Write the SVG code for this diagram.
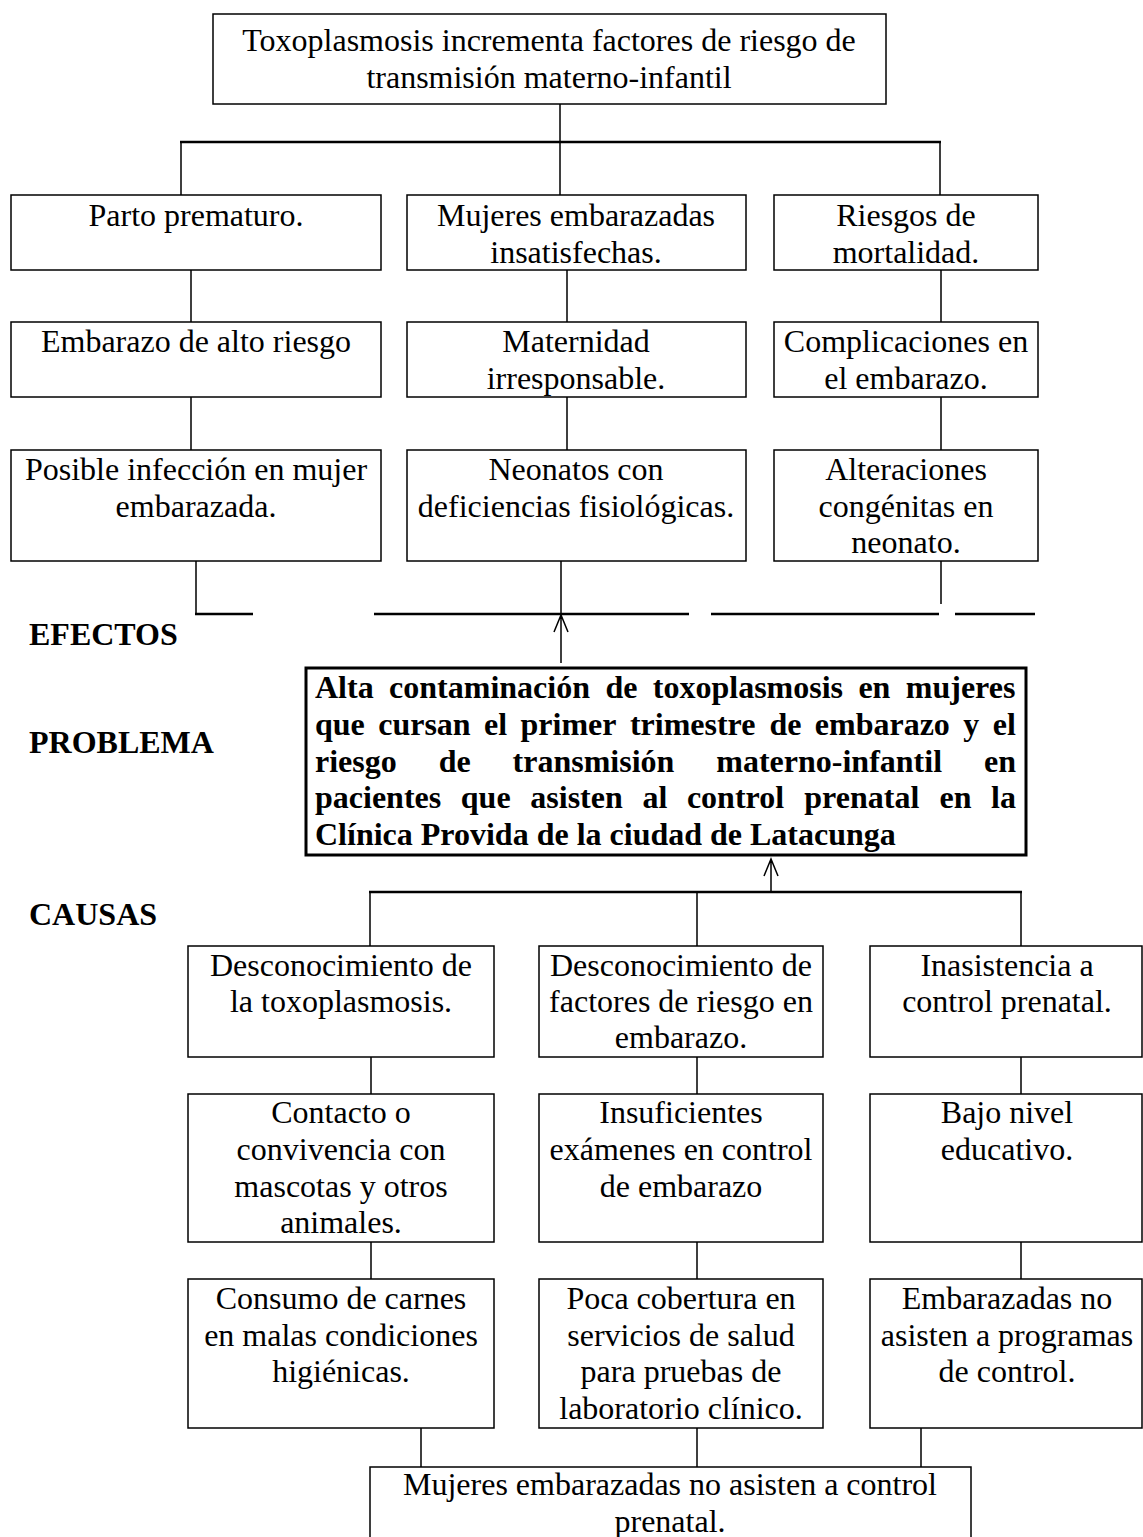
<svg xmlns="http://www.w3.org/2000/svg" width="1143" height="1537" viewBox="0 0 1143 1537">
<style>
text{font-family:"Liberation Serif","Times New Roman",serif;font-size:32px;fill:#000}
.c{text-anchor:middle}
.b{font-weight:bold}
.box{fill:#fff;stroke:#000;stroke-width:1.5}
.pbox{fill:#fff;stroke:#000;stroke-width:3}
.ln{stroke:#000;stroke-width:1.5;fill:none}
.hb{stroke:#000;stroke-width:2.5;fill:none}
</style>
<rect width="1143" height="1537" fill="#fff"/>
<g id="connectors">
<path class="ln" d="M560 104V142M181 142V195M560 142V195M940 142V195"/>
<path class="hb" d="M180 142H941"/>
<path class="ln" d="M191 270V322M567 270V322M941 270V322M191 397V450M567 397V450M941 397V450"/>
<path class="ln" d="M196 561V614M561 561V614M941 561V604"/>
<path class="hb" d="M195 614H253M374 614H689M711 614H939M955 614H1035"/>
<path class="ln" d="M561 663V615M554 632L561 615L568 632"/>
<path class="ln" d="M771 892V859M764 876L771 859L778 876"/>
<path class="hb" d="M369 892H1022"/>
<path class="ln" d="M370 892V946M697 892V946M1021 892V946M371 1057V1094M697 1057V1094M1021 1057V1094M371 1242V1279M697 1242V1279M1021 1242V1279M421 1428V1467M697 1428V1467M921 1428V1467"/>
</g>
<g id="labels">
<text class="b" x="29" y="645">EFECTOS</text>
<text class="b" x="29" y="753">PROBLEMA</text>
<text class="b" x="29" y="925">CAUSAS</text>
</g>
<g id="n-top"><rect class="box" x="213" y="14" width="673" height="90"/>
<text class="c" x="549" y="51">Toxoplasmosis incrementa factores de riesgo de</text>
<text class="c" x="549" y="88">transmisión materno-infantil</text></g>
<g id="e1a"><rect class="box" x="11" y="195" width="370" height="75"/>
<text class="c" x="196" y="226">Parto prematuro.</text></g>
<g id="e1b"><rect class="box" x="407" y="195" width="339" height="75"/>
<text class="c" x="576" y="226">Mujeres embarazadas</text>
<text class="c" x="576" y="263">insatisfechas.</text></g>
<g id="e1c"><rect class="box" x="774" y="195" width="264" height="75"/>
<text class="c" x="906" y="226">Riesgos de</text>
<text class="c" x="906" y="263">mortalidad.</text></g>
<g id="e2a"><rect class="box" x="11" y="322" width="370" height="75"/>
<text class="c" x="196" y="352">Embarazo de alto riesgo</text></g>
<g id="e2b"><rect class="box" x="407" y="322" width="339" height="75"/>
<text class="c" x="576" y="352">Maternidad</text>
<text class="c" x="576" y="389">irresponsable.</text></g>
<g id="e2c"><rect class="box" x="774" y="322" width="264" height="75"/>
<text class="c" x="906" y="352">Complicaciones en</text>
<text class="c" x="906" y="389">el embarazo.</text></g>
<g id="e3a"><rect class="box" x="11" y="450" width="370" height="111"/>
<text class="c" x="196" y="480">Posible infección en mujer</text>
<text class="c" x="196" y="517">embarazada.</text></g>
<g id="e3b"><rect class="box" x="407" y="450" width="339" height="111"/>
<text class="c" x="576" y="480">Neonatos con</text>
<text class="c" x="576" y="517">deficiencias fisiológicas.</text></g>
<g id="e3c"><rect class="box" x="774" y="450" width="264" height="111"/>
<text class="c" x="906" y="480">Alteraciones</text>
<text class="c" x="906" y="517">congénitas en</text>
<text class="c" x="906" y="553">neonato.</text></g>
<g id="problem"><rect class="pbox" x="306" y="668" width="720" height="187"/>
<text class="b" y="698"><tspan x="315">Alta</tspan><tspan x="389.1">contaminación</tspan><tspan x="605.4">de</tspan><tspan x="652.8">toxoplasmosis</tspan><tspan x="858.4">en</tspan><tspan x="905.8">mujeres</tspan></text>
<text class="b" y="735"><tspan x="315">que</tspan><tspan x="378.2">cursan</tspan><tspan x="484">el</tspan><tspan x="520.5">primer</tspan><tspan x="629.9">trimestre</tspan><tspan x="769.4">de</tspan><tspan x="814.8">embarazo</tspan><tspan x="963.3">y</tspan><tspan x="992.7">el</tspan></text>
<text class="b" y="772"><tspan x="315">riesgo</tspan><tspan x="438.7">de</tspan><tspan x="512.6">transmisión</tspan><tspan x="716.3">materno-infantil</tspan><tspan x="984">en</tspan></text>
<text class="b" y="808"><tspan x="315">pacientes</tspan><tspan x="460.8">que</tspan><tspan x="530.3">asisten</tspan><tspan x="642.4">al</tspan><tspan x="686.9">control</tspan><tspan x="804.3">prenatal</tspan><tspan x="939.5">en</tspan><tspan x="991.1">la</tspan></text>
<text class="b" x="315" y="845">Clínica Provida de la ciudad de Latacunga</text></g>
<g id="c1a"><rect class="box" x="188" y="946" width="306" height="111"/>
<text class="c" x="341" y="976">Desconocimiento de</text>
<text class="c" x="341" y="1012">la toxoplasmosis.</text></g>
<g id="c1b"><rect class="box" x="539" y="946" width="284" height="111"/>
<text class="c" x="681" y="976">Desconocimiento de</text>
<text class="c" x="681" y="1012">factores de riesgo en</text>
<text class="c" x="681" y="1048">embarazo.</text></g>
<g id="c1c"><rect class="box" x="870" y="946" width="272" height="111"/>
<text class="c" x="1007" y="976">Inasistencia a</text>
<text class="c" x="1007" y="1012">control prenatal.</text></g>
<g id="c2a"><rect class="box" x="188" y="1094" width="306" height="148"/>
<text class="c" x="341" y="1123">Contacto o</text>
<text class="c" x="341" y="1160">convivencia con</text>
<text class="c" x="341" y="1197">mascotas y otros</text>
<text class="c" x="341" y="1233">animales.</text></g>
<g id="c2b"><rect class="box" x="539" y="1094" width="284" height="148"/>
<text class="c" x="681" y="1123">Insuficientes</text>
<text class="c" x="681" y="1160">exámenes en control</text>
<text class="c" x="681" y="1197">de embarazo</text></g>
<g id="c2c"><rect class="box" x="870" y="1094" width="272" height="148"/>
<text class="c" x="1007" y="1123">Bajo nivel</text>
<text class="c" x="1007" y="1160">educativo.</text></g>
<g id="c3a"><rect class="box" x="188" y="1279" width="306" height="149"/>
<text class="c" x="341" y="1309">Consumo de carnes</text>
<text class="c" x="341" y="1346">en malas condiciones</text>
<text class="c" x="341" y="1382">higiénicas.</text></g>
<g id="c3b"><rect class="box" x="539" y="1279" width="284" height="149"/>
<text class="c" x="681" y="1309">Poca cobertura en</text>
<text class="c" x="681" y="1346">servicios de salud</text>
<text class="c" x="681" y="1382">para pruebas de</text>
<text class="c" x="681" y="1419">laboratorio clínico.</text></g>
<g id="c3c"><rect class="box" x="870" y="1279" width="272" height="149"/>
<text class="c" x="1007" y="1309">Embarazadas no</text>
<text class="c" x="1007" y="1346">asisten a programas</text>
<text class="c" x="1007" y="1382">de control.</text></g>
<g id="bottom"><rect class="box" x="370" y="1467" width="601" height="80"/>
<text class="c" x="670" y="1495">Mujeres embarazadas no asisten a control</text>
<text class="c" x="670" y="1532">prenatal.</text></g>
</svg>
